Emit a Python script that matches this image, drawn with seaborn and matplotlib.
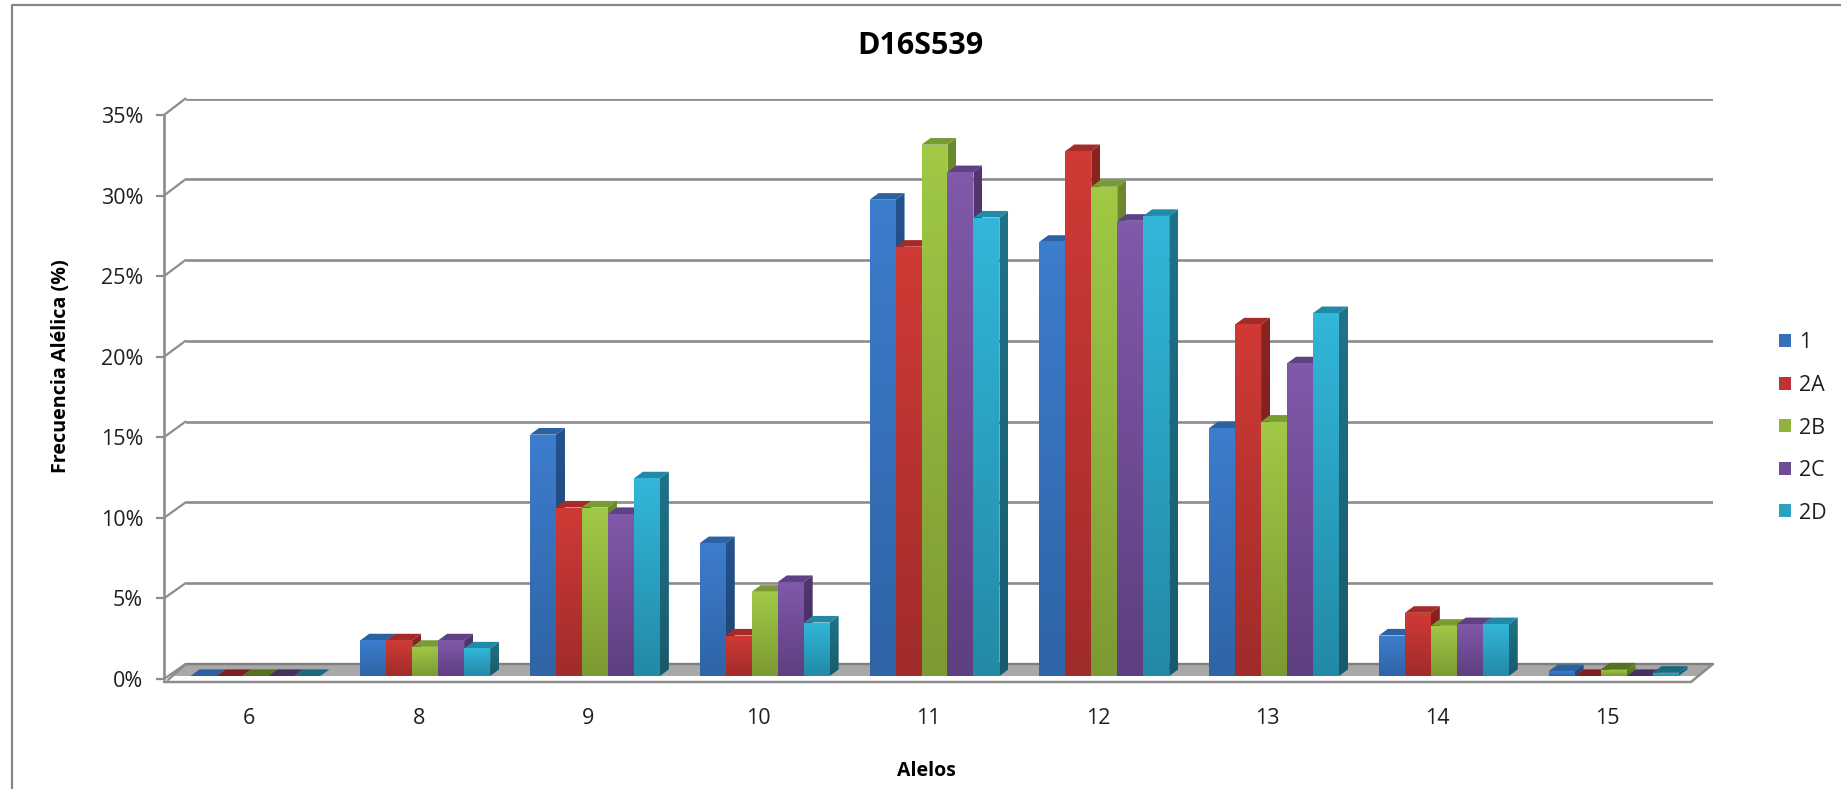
import numpy as np
import pandas as pd
import matplotlib
matplotlib.use("Agg")
import matplotlib.pyplot as plt
import seaborn as sns
from matplotlib.colors import LinearSegmentedColormap
from matplotlib.patches import Patch, Polygon
from matplotlib.ticker import PercentFormatter

alelos = ["6", "8", "9", "10", "11", "12", "13", "14", "15"]
series = ["1", "2A", "2B", "2C", "2D"]
s1 = [0.0, 2.2, 14.9, 8.2, 29.4, 26.8, 15.3, 2.5, 0.3]
s2a = [0.0, 2.2, 10.4, 2.5, 26.5, 32.4, 21.7, 3.9, 0.0]
s2b = [0.0, 1.8, 10.4, 5.2, 32.8, 30.2, 15.7, 3.1, 0.4]
s2c = [0.0, 2.2, 10.0, 5.8, 31.1, 28.1, 19.3, 3.2, 0.0]
s2d = [0.0, 1.7, 12.2, 3.3, 28.3, 28.4, 22.4, 3.2, 0.2]
values = [s1, s2a, s2b, s2c, s2d]

front_top = ["#3d7dcd", "#d03a36", "#a0c945", "#8059a9", "#32b6da"]
front_bot = ["#2f64a6", "#a02c2a", "#7c9a33", "#5e3f80", "#238aa6"]
top_col = ["#2c62a3", "#a52b28", "#789c33", "#5f4285", "#2389a6"]
zero_col = ["#2c62a3", "#7d2020", "#55701f", "#46305f", "#1a6a7e"]
side_top = ["#24528c", "#8a2421", "#6a8a2c", "#523670", "#1f7389"]
side_bot = ["#1d426f", "#6f1c1a", "#55701f", "#42295b", "#195a6c"]
legend_col = ["#3570b8", "#bd3431", "#8fb33d", "#6f4d96", "#2ba2c2"]

W, H = 1841, 789
GRID = "#8c8c8c"
sns.set_theme(style="white")
plt.rcParams["font.family"] = ["Open Sans", "DejaVu Sans"]
TXT = "#1f1f1f"

df = pd.DataFrame({
    "Alelo": np.tile(alelos, len(series)),
    "Serie": np.repeat(series, len(alelos)),
    "Frecuencia": np.concatenate(values),
})

fig = plt.figure(figsize=(W / 100, H / 100), dpi=100, facecolor="white")


def rect(l, t, r, b):
    return [l / W, 1 - b / H, (r - l) / W, (b - t) / H]


# chrome in pixel coordinates
bg = fig.add_axes([0, 0, 1, 1], zorder=0)
bg.set_xlim(0, W)
bg.set_ylim(H, 0)
bg.set_axis_off()
bg.plot([12, 12, W + 5], [H + 5, 5, 5], color="#858585", lw=1.6, clip_on=False)
bg.add_patch(Polygon([(170, 676), (186, 664), (1713, 664), (1698, 676)],
                     closed=True, fc="#a8a8a8", ec="none"))
bg.plot([186, 1713], [664, 664], color="#808080", lw=1.7)
bg.plot([164, 1691, 1713], [682, 682, 664], color="#8c8c8c", lw=1.8)
bg.plot([168, 186], [680, 664], color="#8c8c8c", lw=1.6)

# back wall
wall = fig.add_axes(rect(185.5, 98.5, 1713, 664), zorder=1)
wall.set_xlim(0, 1)
wall.set_ylim(0, 35)
wall.patch.set_alpha(0)
for s in wall.spines.values():
    s.set_visible(False)
wall.set_yticks(range(5, 40, 5))
wall.set_xticks([])
wall.tick_params(left=False, labelleft=False)
wall.grid(axis="y", color=GRID, lw=1.9)

# front plane: axis, ticks, labels
ax = fig.add_axes(rect(164, 115, 1692, 679), zorder=2)
ax.set_xlim(-0.5, 8.5)
ax.set_ylim(0, 35)
ax.patch.set_alpha(0)
for k, s in ax.spines.items():
    s.set_visible(k == "left")
    s.set_color(GRID)
    s.set_linewidth(1.9)
ax.set_xticks(range(len(alelos)), alelos)
ax.set_yticks(range(0, 40, 5))
ax.yaxis.set_major_formatter(PercentFormatter(decimals=0))
ax.tick_params(axis="y", length=6, width=1.6, color=GRID, pad=9, labelsize=15.5, labelcolor=TXT, left=True)
ax.tick_params(axis="x", length=0, pad=21, labelsize=15.5, labelcolor=TXT)
ax.set_axisbelow(True)
for v in range(0, 40, 5):
    y = 679 - (679 - 115) * v / 35
    bg.plot([164, 185.5], [y, 98.5 + (664 - 98.5) * (35 - v) / 35], color=GRID, lw=1.6)

# bars
bax = fig.add_axes(rect(170.5, 109, 1698.5, 676), zorder=3)
sns.barplot(data=df, x="Alelo", y="Frecuencia", hue="Serie", order=alelos, hue_order=series,
            palette=legend_col, width=0.765, gap=0, dodge=True, legend=False, saturation=1, ax=bax)
bax.set_xlim(-0.5, 8.5)
bax.set_ylim(0, 35)
bax.set_axis_off()

DX = 9.0 / 169.8
DY = 6.6 / 16.2


def shade(poly, ctop, cbot, z):
    p = Polygon(poly, closed=True, fc="none", ec="none", zorder=z, transform=bax.transData)
    bax.add_patch(p)
    xs, ys = zip(*poly)
    cmap = LinearSegmentedColormap.from_list("g", [ctop, cbot])
    im = bax.imshow(np.linspace(0, 1, 64).reshape(-1, 1), cmap=cmap, aspect="auto",
                    extent=(min(xs), max(xs), min(ys), max(ys)), origin="upper",
                    zorder=z, interpolation="bilinear")
    im.set_clip_path(p)


bars = []
for hi, cont in enumerate(bax.containers):
    for b in cont:
        bars.append((b.get_x(), hi, b))
bars.sort(key=lambda t: t[0])
z = 10
for x0, hi, b in bars:
    w, h = b.get_width(), b.get_height()
    b.set_visible(False)
    x1 = x0 + w
    c = top_col[hi] if h > 0.5 else zero_col[hi]
    bax.add_patch(Polygon([(x0, h), (x1, h), (x1 + DX, h + DY), (x0 + DX, h + DY)], closed=True,
                          fc=c, ec="none", zorder=z))
    if h > 0:
        shade([(x1, 0), (x1 + DX, DY), (x1 + DX, h + DY), (x1, h)], side_top[hi], side_bot[hi], z + 1)
        shade([(x0, 0), (x1, 0), (x1, h), (x0, h)], front_top[hi], front_bot[hi], z + 2)
    z += 3
bax.set_xlim(-0.5, 8.5)
bax.set_ylim(0, 35)

fig.text(784 / 1568, 1 - 39 / 672, "D16S539", ha="center", va="center", fontsize=22, fontweight="bold", color="black")
fig.text(52 / 1568, 1 - 312 / 672, "Frecuencia Alélica (%)", rotation=90, ha="center", va="center",
         fontsize=14.2, fontweight="bold", color="black")
fig.text(789 / 1568, 1 - 657 / 672, "Alelos", ha="center", va="center", fontsize=14, fontweight="bold", color="black")

handles = [Patch(fc=c, ec="none") for c in legend_col]
fig.legend(handles, series, loc="center left", bbox_to_anchor=(1760 / W, 1 - 428 / H), frameon=False,
           fontsize=15.5, labelspacing=1.0, handlelength=0.55, handleheight=0.55, handletextpad=0.35,
           labelcolor=TXT)

fig.savefig("out.png", dpi=100)
